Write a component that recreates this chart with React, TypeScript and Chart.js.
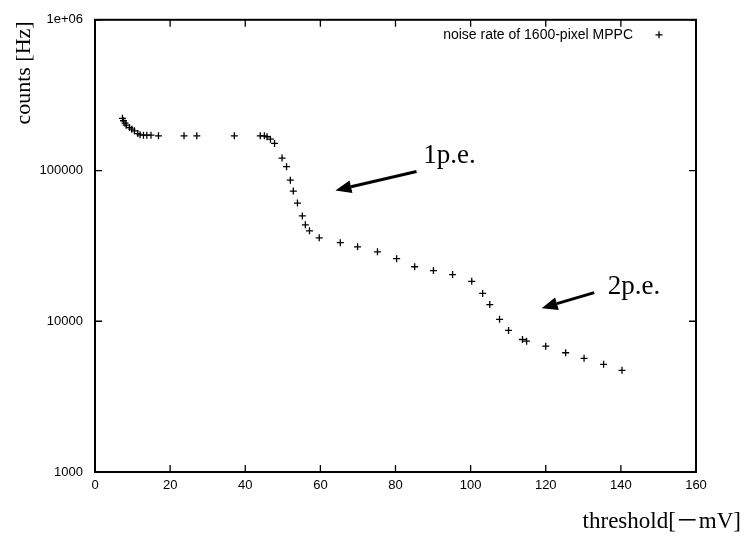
import React, { useEffect, useRef } from "react";
import { Chart, registerables } from "chart.js";

Chart.register(...registerables);

// threshold [-mV]
const thresholds = [
  7.3, 7.6, 8.0, 8.3, 9.2, 9.8, 10.5, 11.4, 12.0, 12.9, 13.8, 14.9, 16.9, 23.7, 27.1, 37.1, 44.0, 45.1, 45.8, 46.7,
  47.8, 49.8, 51.0, 52.0, 52.8, 53.9, 55.2, 56.0, 57.1, 59.7, 65.3, 69.9, 75.2, 80.3, 85.1, 90.1, 95.2, 100.3, 103.2,
  105.1, 107.7, 110.1, 113.8, 114.9, 120.0, 125.3, 130.2, 135.4, 140.3,
];
// counts [Hz]
const rates = [
  222000, 214000, 206000, 200000, 193000, 188000, 183500, 176000, 172600, 171700, 171700, 171700, 170000, 170000,
  170000, 170000, 170000, 170000, 167600, 161500, 151400, 121000, 106000, 86300, 73100, 60800, 50000, 43600, 39800,
  35800, 33200, 31200, 28900, 26000, 23000, 21700, 20400, 18400, 15300, 12900, 10300, 8700, 7570, 7380, 6840, 6180,
  5680, 5180, 4730,
];

const seriesLabel = "noise rate of 1600-pixel MPPC";
const xTitle = "threshold[－mV]";
const yTitle = "counts [Hz]";

// annotations in data units
const annotationLabels = ["1p.e.", "2p.e."];
const annotationLabelX = [87.4, 136.5];
const annotationLabelY = [112000, 15100];
const arrowTailX = [85.6, 132.9];
const arrowTailY = [98500, 15500];
const arrowTipX = [64, 118.9];
const arrowTipY = [73800, 12200];

const X_MIN = 0;
const X_MAX = 160;
const X_STEP = 20;
const Y_MIN = 1000;
const Y_MAX = 1000000;

function isPow10(v: number) {
  const l = Math.log10(v);
  return Math.abs(l - Math.round(l)) < 1e-9;
}

const framePlugin = {
  id: "gnuplotFrame",
  afterDatasetsDraw(chart: any) {
    const { ctx, chartArea, scales } = chart;
    const { left, right, top, bottom } = chartArea;
    ctx.save();
    ctx.strokeStyle = "#000";
    ctx.fillStyle = "#000";

    // ticks inside on all four sides
    ctx.lineWidth = 1.3;
    ctx.beginPath();
    for (const t of scales.x.ticks) {
      const px = scales.x.getPixelForValue(t.value);
      ctx.moveTo(px, bottom);
      ctx.lineTo(px, bottom - 7);
      ctx.moveTo(px, top);
      ctx.lineTo(px, top + 7);
    }
    for (const t of scales.y.ticks) {
      const py = scales.y.getPixelForValue(t.value);
      const len = isPow10(t.value) ? 7 : 4;
      ctx.moveTo(left, py);
      ctx.lineTo(left + len, py);
      ctx.moveTo(right, py);
      ctx.lineTo(right - len, py);
    }
    ctx.stroke();

    // border
    ctx.lineWidth = 2;
    ctx.strokeRect(left, top, right - left, bottom - top);

    // legend (inside, top right)
    ctx.font = "14px 'Liberation Sans', Arial, sans-serif";
    ctx.textAlign = "right";
    ctx.textBaseline = "middle";
    ctx.fillText(seriesLabel, right - 63, top + 15);
    const cx = right - 37;
    const cy = top + 15;
    ctx.lineWidth = 1.3;
    ctx.beginPath();
    ctx.moveTo(cx - 3.5, cy);
    ctx.lineTo(cx + 3.5, cy);
    ctx.moveTo(cx, cy - 3.5);
    ctx.lineTo(cx, cy + 3.5);
    ctx.stroke();

    // annotations with arrows
    for (let i = 0; i < annotationLabels.length; i++) {
      const lx = scales.x.getPixelForValue(annotationLabelX[i]);
      const ly = scales.y.getPixelForValue(annotationLabelY[i]);
      ctx.font = "27px 'Liberation Serif', 'Times New Roman', serif";
      ctx.textAlign = "left";
      ctx.textBaseline = "alphabetic";
      ctx.fillText(annotationLabels[i], lx, ly);

      const x1 = scales.x.getPixelForValue(arrowTailX[i]);
      const y1 = scales.y.getPixelForValue(arrowTailY[i]);
      const x2 = scales.x.getPixelForValue(arrowTipX[i]);
      const y2 = scales.y.getPixelForValue(arrowTipY[i]);
      const ang = Math.atan2(y2 - y1, x2 - x1);
      const headLen = 16;
      const headW = 6.5;
      const bx = x2 - headLen * Math.cos(ang);
      const by = y2 - headLen * Math.sin(ang);
      ctx.lineWidth = 3;
      ctx.beginPath();
      ctx.moveTo(x1, y1);
      ctx.lineTo(bx, by);
      ctx.stroke();
      ctx.beginPath();
      ctx.moveTo(x2, y2);
      ctx.lineTo(bx + headW * Math.sin(ang), by - headW * Math.cos(ang));
      ctx.lineTo(bx - headW * Math.sin(ang), by + headW * Math.cos(ang));
      ctx.closePath();
      ctx.fill();
    }

    // axis titles
    ctx.font = "22px 'Liberation Serif', 'Times New Roman', serif";
    ctx.save();
    ctx.translate(24, 73);
    ctx.rotate(-Math.PI / 2);
    ctx.textAlign = "center";
    ctx.textBaseline = "middle";
    ctx.fillText(yTitle, 0, 0);
    ctx.restore();

    ctx.font = "23px 'Liberation Serif', 'Noto Sans CJK JP', serif";
    ctx.textAlign = "right";
    ctx.textBaseline = "alphabetic";
    ctx.fillText(xTitle, 741, 528);

    ctx.restore();
  },
};

export default function App() {
  const canvasRef = useRef<HTMLCanvasElement | null>(null);

  useEffect(() => {
    const canvas = canvasRef.current;
    if (!canvas) return;
    const points = thresholds.map((x, i) => ({ x, y: rates[i] }));
    const tickFont = { family: "'Liberation Sans', Arial, sans-serif", size: 13 };
    const chart = new Chart(canvas, {
      type: "scatter",
      data: {
        datasets: [
          {
            label: seriesLabel,
            data: points,
            pointStyle: "cross",
            pointRadius: 3.5,
            pointHoverRadius: 3.5,
            borderColor: "#000",
            backgroundColor: "#000",
            pointBorderWidth: 1.3,
            showLine: false,
          },
        ],
      },
      options: {
        animation: false,
        responsive: true,
        maintainAspectRatio: false,
        events: [],
        layout: { padding: { left: 0, top: 16, right: 50, bottom: 0 } },
        plugins: { legend: { display: false }, tooltip: { enabled: false } },
        scales: {
          x: {
            type: "linear",
            min: X_MIN,
            max: X_MAX,
            grid: { display: false, drawTicks: false },
            border: { display: false },
            ticks: {
              stepSize: X_STEP,
              color: "#000",
              font: tickFont,
              padding: 6,
              maxRotation: 0,
            },
            afterFit: (s: any) => {
              s.height = 65;
            },
          },
          y: {
            type: "logarithmic",
            min: Y_MIN,
            max: Y_MAX,
            grid: { display: false, drawTicks: false },
            border: { display: false },
            ticks: {
              color: "#000",
              font: tickFont,
              padding: 12,
              autoSkip: false,
              callback: (v: any) => {
                const n = Number(v);
                if (!isPow10(n)) return null;
                if (n >= 1000000) return "1e+06";
                return String(Math.round(n));
              },
            },
            afterFit: (s: any) => {
              s.width = 95;
            },
          },
        },
      },
      plugins: [framePlugin],
    });
    return () => chart.destroy();
  }, []);

  return (
    <div style={{ position: "fixed", left: 0, top: 0, width: 746, height: 537, background: "#fff" }}>
      <canvas ref={canvasRef} />
    </div>
  );
}
